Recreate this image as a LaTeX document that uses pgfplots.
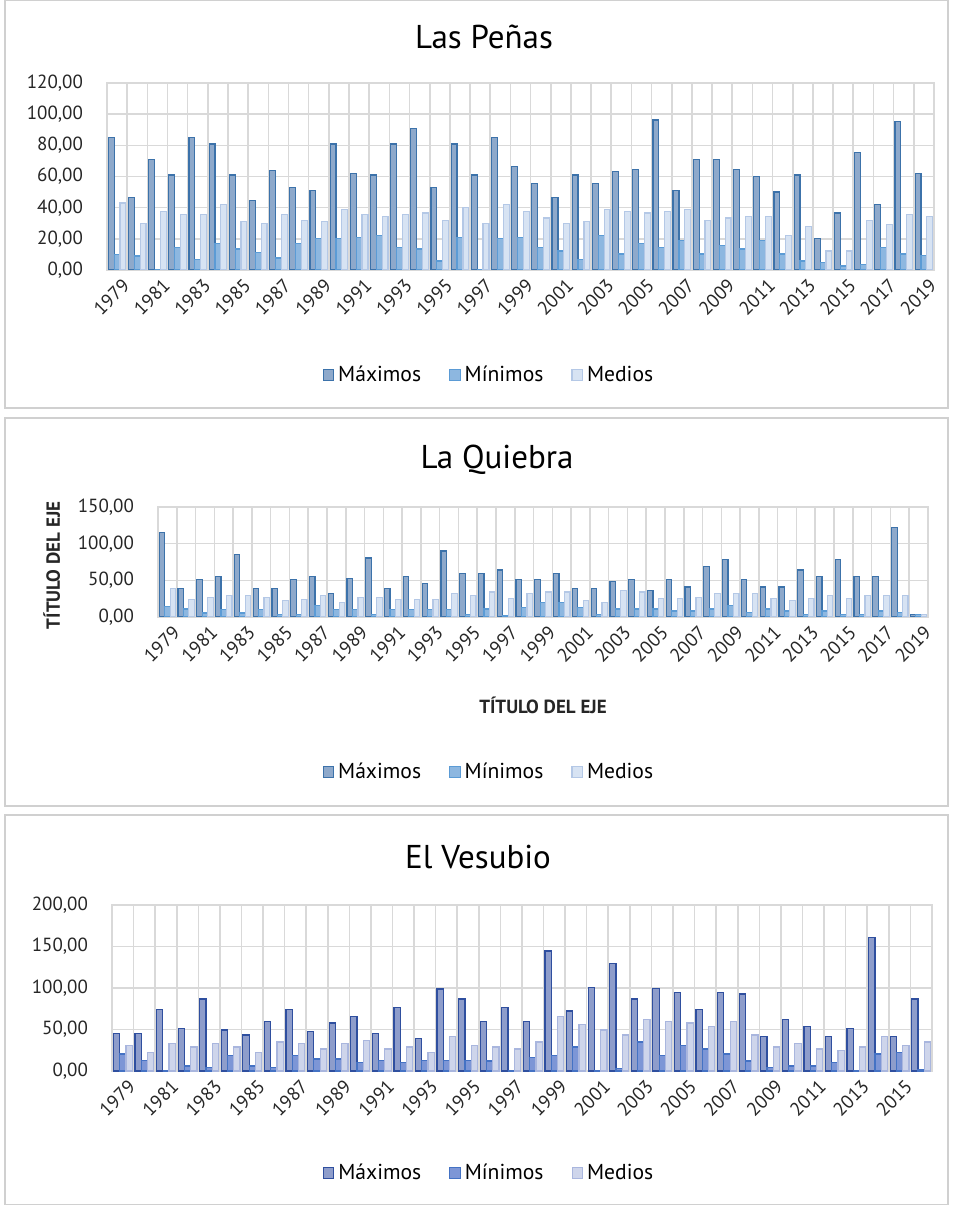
\documentclass[border=0pt]{standalone}
\usepackage{pgfplots}
\pgfplotsset{compat=1.18}
\usepackage{pgfplotstable}
\usepackage{fontspec}
\setmainfont{PT Sans}

\definecolor{gridc}{HTML}{D9D9D9}
\definecolor{framec}{HTML}{D0D0D0}
\definecolor{maxA}{HTML}{8EA9CB}\definecolor{maxAd}{HTML}{3C72AA}
\definecolor{minA}{HTML}{8DB7E0}\definecolor{minAd}{HTML}{5B9BD5}
\definecolor{meanA}{HTML}{D7E3F3}\definecolor{meanAd}{HTML}{B4C8E6}
\definecolor{maxB}{HTML}{8E9DCB}\definecolor{maxBd}{HTML}{2F4F9F}
\definecolor{minB}{HTML}{7D96D6}\definecolor{minBd}{HTML}{4472C4}
\definecolor{meanB}{HTML}{CED5EB}\definecolor{meanBd}{HTML}{A9B6DE}

% year  max  min  mean
\pgfplotstableread{
year max min mean
1979 85 10 43
1980 46.7 9 30
1981 71 0 37.7
1982 61 14.6 35.6
1983 85 6.9 35.6
1984 80.8 17 42
1985 61 13.5 31
1986 44.4 11 30
1987 64 7.7 35.6
1988 53 17 32
1989 51 20 31
1990 80.8 20 38.8
1991 62 21 35.6
1992 61 22.3 34.5
1993 80.8 14.6 35.6
1994 90.6 13.5 36.6
1995 53 5.8 32
1996 80.8 21 40
1997 61 0 30
1998 85 20 42
1999 66.4 21 37.7
2000 55.5 14.6 33.4
2001 46.5 12.2 30
2002 61 6.9 31
2003 55.5 22.3 38.8
2004 63.2 10.3 37.7
2005 64.3 17 36.6
2006 96.2 14.6 37.7
2007 51 18.9 38.8
2008 71 10.3 32
2009 71 15.6 33.4
2010 64.3 13.5 34.5
2011 59.8 18.9 34.5
2012 50 10.3 22.3
2013 61 5.8 27.9
2014 20 4.7 12.2
2015 36.6 2.6 12.2
2016 75.2 3.6 32
2017 42.2 14.6 29
2018 95.1 10.3 35.6
2019 62 9.2 34.5
}\penas

\pgfplotstableread{
year max min mean
1979 115 14.5 38.4
1980 38.4 10.8 24.4
1981 50.6 5.4 27
1982 55 10 29
1983 85.4 5.4 29
1984 38.4 10 27
1985 38.4 3.2 22
1986 50.6 3.2 24.4
1987 55 15.4 29
1988 31.6 10 20
1989 52.9 10 27
1990 80.4 3.2 27
1991 38.4 10 24.4
1992 55 10 24.4
1993 45.6 10 24.4
1994 90 10 31.6
1995 59.6 3.2 29
1996 59.6 10.8 34
1997 64 1.8 24.8
1998 50.6 13 31.6
1999 50.6 20 34
2000 59.6 20 34
2001 38.9 13 22.6
2002 38.9 3.6 20
2003 48 10.8 36
2004 50.6 10.8 34
2005 36 10.8 24.8
2006 50.6 8.1 24.8
2007 41 8.1 27
2008 68.7 10.8 31.6
2009 78 15.4 31.6
2010 50.6 6.3 31.6
2011 41 10.8 24.8
2012 41 8.1 22.6
2013 64 3.6 24.8
2014 55 8.1 29.4
2015 78 3.6 24.8
2016 55 3.6 29.4
2017 55 8.1 29.4
2018 122.5 6.3 29.4
2019 3.6 3.6 3.6
}\quiebra

\pgfplotstableread{
year max min mean
1979 45.4 20.5 31
1980 45.4 12.4 22.5
1981 74.3 0 33
1982 51.4 6 29
1983 86.7 4 33
1984 49.4 18.5 29
1985 43.4 6 22.5
1986 59.8 4 35
1987 74.3 18.5 33
1988 47.4 14.5 26.5
1989 57.8 14.5 33
1990 65.9 10 37
1991 45.4 12.4 26.5
1992 76.3 10 29
1993 39 12.4 22.5
1994 98.8 12.4 41.4
1995 86.7 12.4 31
1996 59.8 12 29
1997 76.3 0 26.5
1998 59.8 16.5 35
1999 144.6 18.5 65.9
2000 72.3 29 55.8
2001 101 1 49.4
2002 130 3 43.4
2003 86.7 35 61.8
2004 99.2 18.5 59.8
2005 94.8 31 57.8
2006 74.3 26.5 53.4
2007 94.8 20.5 59.8
2008 92.8 12 43.4
2009 41.4 4 29
2010 61.8 6 33
2011 53.4 6 26.5
2012 41.4 10 24.5
2013 51.4 0 29
2014 161 20.5 41.4
2015 41.4 22.5 31
2016 86.7 2 35
}\vesubio

\pgfplotsset{
  excel/.style={
    scale only axis, ybar, bar width=0.29, ymin=0,
    ymajorgrids, xminorgrids,
    major grid style={gridc, line width=0.8pt},
    minor grid style={gridc, line width=0.8pt},
    axis line style={gridc, line width=0.8pt},
    major tick length=0pt, minor tick length=0pt,
    /pgf/number format/assume math mode=true,
    tick label style={font=\fontsize{9.5}{11}\selectfont, text=black!85},
    yticklabel style={xshift=-8.5pt, /pgf/number format/.cd, fixed, fixed zerofill, precision=2, use comma},
    xticklabel style={rotate=45, anchor=north east, inner sep=1pt, yshift=-3pt, /pgf/number format/1000 sep={}},
    legend columns=3,
    legend style={draw=none, fill=none, anchor=center,
      font=\fontsize{10.8}{12}\selectfont,
      /tikz/every even column/.append style={column sep=12pt}},
    legend image code/.code={\draw[#1, line width=0.6pt] (0pt,-2.6pt) rectangle (5.2pt,2.6pt);},
  },
}

\begin{document}
\begin{tikzpicture}
\useasboundingbox (0,0) rectangle (476.5pt,602.5pt);
\draw[framec, line width=0.8pt] (2.5pt,398.5pt) rectangle (474pt,602.5pt);
\draw[framec, line width=0.8pt] (2.5pt,199.5pt) rectangle (474pt,393.5pt);
\draw[framec, line width=0.8pt] (2.5pt,0pt) rectangle (474pt,195pt);

\node[font=\fontsize{16.5}{18}\selectfont] at (242pt,584pt) {Las Peñas};
\node[font=\fontsize{16.5}{18}\selectfont] at (248.5pt,372.5pt) {La Quiebra};
\node[font=\fontsize{16.5}{18}\selectfont] at (239pt,174pt) {El Vesubio};

% Las Peñas
\begin{axis}[excel, at={(53.5pt,467.5pt)}, anchor=south west,
  width=413.5pt, height=93.5pt,
  xmin=1978.5, xmax=2019.5, ymax=120, ytick={0,20,...,120},
  xtick={1979,1981,...,2019}, minor xtick={1978.5,1979.5,...,2019.5},
  legend style={at={(0.463,-0.561)}}]
\addplot[bar shift=-0.29, draw=maxAd, fill=maxA, line width=0.6pt] table[x=year,y=max] {\penas};
\addplot[bar shift=0, draw=minAd, fill=minA, line width=0.6pt] table[x=year,y=min] {\penas};
\addplot[bar shift=0.29, draw=meanAd, fill=meanA, line width=0.6pt] table[x=year,y=mean] {\penas};
\legend{Máximos, Mínimos, Medios}
\end{axis}

% La Quiebra
\begin{axis}[excel, at={(79pt,294pt)}, anchor=south west,
  width=385pt, height=55pt,
  xmin=1978.5, xmax=2019.5, ymax=150, ytick={0,50,100,150},
  xtick={1979,1981,...,2019}, minor xtick={1978.5,1979.5,...,2019.5},
  xlabel={TÍTULO DEL EJE}, ylabel={TÍTULO DEL EJE},
  label style={font=\fontsize{9.5}{11}\selectfont\bfseries, text=black!85},
  xlabel style={at={(0.5,-0.8)}, anchor=center},
  ylabel style={at={(-0.138,0.47)}, anchor=center},
  legend style={at={(0.431,-1.409)}}]
\addplot[bar shift=-0.29, draw=maxAd, fill=maxA, line width=0.6pt] table[x=year,y=max] {\quiebra};
\addplot[bar shift=0, draw=minAd, fill=minA, line width=0.6pt] table[x=year,y=min] {\quiebra};
\addplot[bar shift=0.29, draw=meanAd, fill=meanA, line width=0.6pt] table[x=year,y=mean] {\quiebra};
\legend{Máximos, Mínimos, Medios}
\end{axis}

% El Vesubio
\begin{axis}[excel, at={(56pt,67pt)}, anchor=south west,
  width=410pt, height=83pt,
  xmin=1978.5, xmax=2016.5, ymax=200, ytick={0,50,...,200},
  xtick={1979,1981,...,2015}, minor xtick={1978.5,1979.5,...,2016.5},
  legend style={at={(0.461,-0.614)}}]
\addplot[bar shift=-0.29, draw=maxBd, fill=maxB, line width=0.6pt] table[x=year,y=max] {\vesubio};
\addplot[bar shift=0, draw=minBd, fill=minB, line width=0.6pt] table[x=year,y=min] {\vesubio};
\addplot[bar shift=0.29, draw=meanBd, fill=meanB, line width=0.6pt] table[x=year,y=mean] {\vesubio};
\legend{Máximos, Mínimos, Medios}
\end{axis}
\end{tikzpicture}
\end{document}
